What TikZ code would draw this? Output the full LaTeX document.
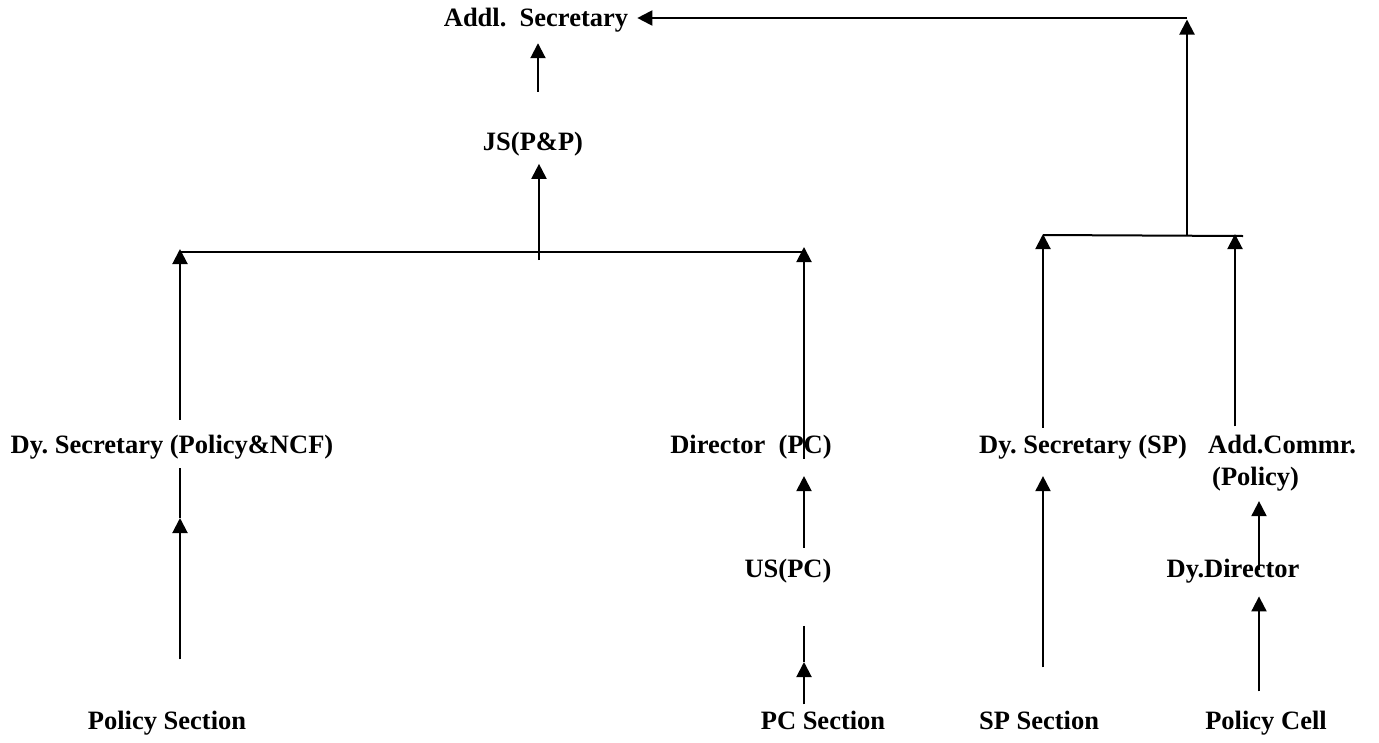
\documentclass[tikz,border=0pt]{standalone}
\usepackage{fontspec}
\setmainfont{Liberation Serif}
\usetikzlibrary{arrows.meta}
\frenchspacing
\begin{document}
\begin{tikzpicture}[x=1pt,y=-1pt,
  lbl/.style={anchor=base,inner sep=0pt,font=\bfseries\fontsize{26.5}{30}\selectfont},
  ln/.style={line width=2pt},
  arr/.style={line width=2pt,-{Triangle[length=15pt,width=15pt]}}]
\useasboundingbox (0,0) rectangle (1379,742);
% text nodes
\node[lbl] (addl) at (536,26) {Addl.~~Secretary};
\node[lbl] (js) at (533,150) {JS(P\&P)};
\node[lbl] (dsl) at (172,453) {Dy. Secretary (Policy\&NCF)};
\node[lbl] (dir) at (751,453) {Director~~(PC)};
\node[lbl] (dsp) at (1083,453) {Dy. Secretary (SP)};
\node[lbl,anchor=base west] (adc) at (1208,453) {Add.Commr.};
\node[lbl,anchor=base west] (adc2) at (1212,485) {(Policy)};
\node[lbl] (us) at (788,577) {US(PC)};
\node[lbl] (ddir) at (1233,577) {Dy.Director};
\node[lbl] (ps) at (167,729) {Policy Section};
\node[lbl] (pcs) at (823,729) {PC Section};
\node[lbl] (sps) at (1039,729) {SP Section};
\node[lbl] (pcell) at (1266,729) {Policy Cell};
% columns and junctions
\coordinate (colA) at (180,0);
\coordinate (colB) at (538,0);
\coordinate (colC) at (804,0);
\coordinate (colD) at (1043,0);
\coordinate (colF) at (1235,0);
\coordinate (colG) at (1259,0);
\coordinate (bl) at (180,252);
\coordinate (br) at (806,252);
\coordinate (bm) at (539,260);
\coordinate (rl) at (1043,235);
\coordinate (rr) at (1243,236);
\coordinate (rm) at (1187,235);
\coordinate (rc) at (1187,18);
\coordinate (mA) at (180,518);
\coordinate (mG) at (804,662);
% top part
\draw[arr, shorten >=1.5pt] (rm) -- (rc);
\draw[arr, shorten >=9pt] (rc) -- (rc -| addl.east);
\draw[arr, shorten <=39.6pt, shorten >=11.3pt] (colB |- js.north) -- (colB |- addl.south);
\draw[arr, shorten >=8pt] (bm) -- (bm |- js.south);
% bars
\draw[ln] (bl) -- (br);
\draw[ln] (rl) -- (rr);
% to left bar
\draw[arr, shorten <=14.6pt, shorten >=-3pt] (colA |- dsl.north) -- (bl);
\draw[arr, shorten >=-5pt] (colC |- dir.south) -- (colC |- bl);
% to right bar
\draw[arr, shorten <=6.6pt, shorten >=-1pt] (colD |- dsp.north) -- (rl);
\draw[arr, shorten <=8pt, shorten >=-1pt] (colF |- adc.north) -- (colF |- rl);
% lower left
\draw[arr, shorten <=51pt] (colA |- ps.north) -- (mA);
\draw[ln, shorten <=9.5pt] (colA |- dsl.south) -- (mA);
% PC chain
\draw[arr, shorten <=10.6pt, shorten >=17.2pt] (colC |- us.north) -- (colC |- dir.south);
\draw[ln, shorten <=43pt] (colC |- us.south) -- (mG);
\draw[arr, shorten <=6pt] (colC |- pcs.north) -- (mG);
% SP
\draw[arr, shorten <=43pt, shorten >=17.2pt] (colD |- sps.north) -- (colD |- dsp.south);
% policy cell chain
\draw[arr, shorten <=7pt, shorten >=10.2pt] (colG |- ddir.base) -- (colG |- adc2.south);
\draw[arr, shorten <=19pt, shorten >=13.5pt] (colG |- pcell.north) -- (colG |- ddir.south);
\end{tikzpicture}
\end{document}
